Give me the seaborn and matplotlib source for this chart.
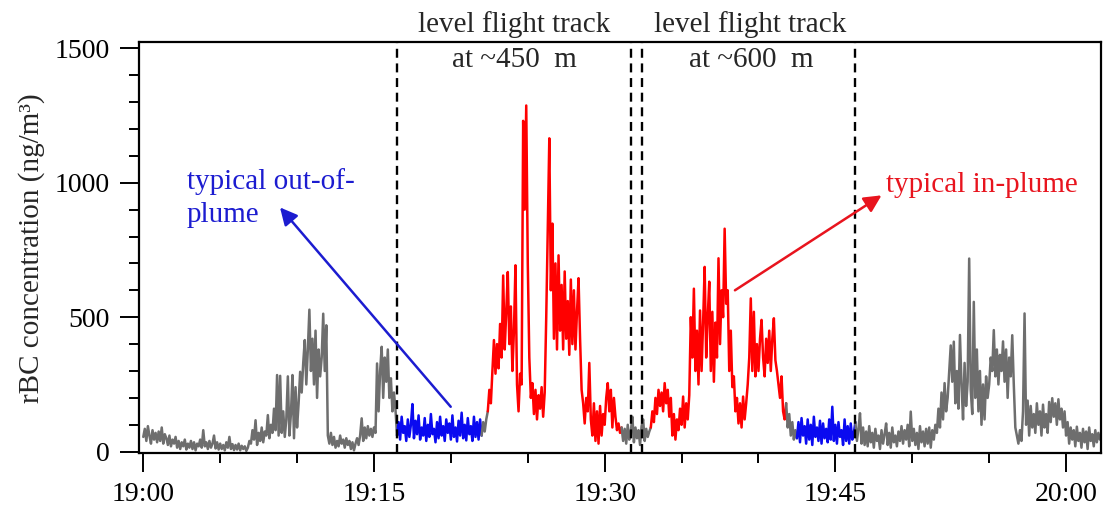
import numpy as np
import matplotlib
matplotlib.use("Agg")
import matplotlib.pyplot as plt
from matplotlib.ticker import MultipleLocator, FixedLocator, FixedFormatter
import seaborn as sns

# ---------------- data (rBC, ng/m3, sampled every 0.1 min from 19:00) ----------------
step_min = 0.1
gray_a = [55, 85, 40, 95, 60, 30, 80, 45, 70, 35,
          75, 40, 90, 30, 65, 50, 25, 60, 20, 45,
          30, 55, 15, 40, 10, 35, 20, 45, 8, 30,
          15, 40, 10, 35, 5, 30, 20, 45, 15, 80,
          20, 35, 10, 40, 15, 30, 60, 12, 35, 8,
          30, 10, 25, 5, 35, 15, 55, 10, 28, 6,
          25, 8, 30, 5, 22, 10, 20, 3, 15, 40,
          30, 80, 45, 117, 25, 70, 40, 90, 35, 75,
          60, 136, 50, 100, 70, 160, 80, 285, 60, 282,
          70, 150, 55, 120, 280, 60, 140, 285, 50, 240,
          90, 180, 297, 220, 330, 415, 250, 380, 528, 300,
          420, 250, 450, 200, 380, 280, 350, 513, 300, 470,
          60, 30, 70, 25, 55, 15, 40, 20, 60, 30,
          45, 15, 50, 25, 40, 10, 35, 5, 30, 50,
          25, 60, 124, 40, 90, 50, 95, 60, 85, 55,
          90, 70, 328, 150, 300, 390, 200, 350, 260, 380,
          200, 273, 150, 220, 155]
blue_a = [60, 110, 45, 130, 70, 95, 40, 120, 55, 100,
          177, 50, 115, 65, 135, 45, 90, 60, 125, 40,
          100, 55, 140, 65, 85, 35, 110, 50, 130, 60,
          95, 40, 120, 70, 105, 45, 135, 55, 90, 38,
          115, 60, 145, 50, 100, 42, 125, 65, 95, 40,
          130, 55, 110, 45, 120]
gray_b = [60, 110, 75, 120]
red_a = [150, 230, 180, 300, 415, 290,
         400, 310, 475, 350, 655, 380, 520, 668, 400, 540,
         300, 450, 693, 250, 150, 290, 250, 1230, 900, 1287,
         700, 350, 200, 255, 140, 230, 120, 210, 160, 240,
         130, 220, 500, 830, 1165, 600, 848, 420, 700, 380,
         730, 450, 620, 380, 670, 420, 560, 360, 640, 400,
         600, 380, 520, 645, 420, 230, 180, 105, 200, 150,
         330, 120, 60, 180, 40, 150, 30, 170, 60, 140,
         100, 200, 255, 150, 230, 90, 200, 130, 80, 105,
         70]
gray_c = [90, 40, 85, 30, 100, 45, 75, 130, 35, 90,
          50, 80, 25, 95, 120, 40, 85, 55, 75]
red_b = [90, 150, 110, 200, 140, 230, 170, 220, 150, 255,
         180, 230, 130, 200, 60, 140, 45, 120, 80, 160,
         100, 205, 90, 180, 120, 210, 500, 350, 606, 300,
         450, 250, 525, 300, 480, 687, 350, 500, 632, 300,
         520, 260, 480, 350, 719, 400, 600, 500, 829, 550,
         600, 300, 450, 240, 280, 150, 200, 105, 180, 90,
         205, 120, 180, 250, 350, 570, 300, 520, 280, 400,
         300, 420, 490, 350, 280, 420, 330, 450, 300, 420,
         496, 340, 300, 250, 200, 280, 150, 120]
gray_d = [180, 90, 140, 60, 110, 45, 80]
blue_b = [50, 110, 35, 125, 60, 95, 30, 120, 45, 100,
          25, 130, 55, 90, 40, 115, 30, 105, 50, 85,
          35, 120, 45, 167, 40, 100, 30, 110, 55, 80,
          25, 120, 40, 95, 30, 105, 45, 70]
gray_e = [110, 40, 85, 143, 30, 90, 25,
          75, 20, 95, 35, 70, 15, 85, 40, 60, 10,
          80, 30, 65, 105, 25, 70, 15, 90, 35, 60,
          20, 75, 40, 95, 30, 80, 45, 100, 20, 149,
          40, 85, 25, 70, 10, 95, 35, 75, 20, 85,
          30, 90, 15, 80, 45, 100, 70, 160, 90, 220,
          120, 255, 150, 200, 300, 395, 260, 409, 180, 300,
          160, 434, 250, 120, 330, 170, 260, 718, 230, 140,
          557, 200, 380, 150, 300, 100, 250, 120, 280, 200,
          250, 350, 300, 452, 280, 380, 250, 360, 300, 410,
          260, 380, 200, 350, 280, 433, 250, 90, 60, 30,
          80, 40, 150, 514, 100, 190, 60, 170, 90, 140,
          70, 180, 100, 150, 60, 175, 90, 140, 70, 185,
          110, 199, 130, 180, 100, 195, 120, 160, 90, 150,
          60, 110, 30, 90, 45, 80, 20, 93, 40, 70,
          15, 85, 35, 75, 10, 90, 40, 65, 20, 80,
          35, 70, 45]

segments = [("gray", gray_a), ("blue", blue_a), ("gray", gray_b), ("red", red_a),
            ("gray", gray_c), ("red", red_b), ("gray", gray_d), ("blue", blue_b),
            ("gray", gray_e)]

x_tick_minutes = [0, 15, 30, 45, 60]
x_tick_labels = ["19:00", "19:15", "19:30", "19:45", "20:00"]
y_ticks = [0, 500, 1000, 1500]
track_bounds = [16.5, 31.7, 32.45, 46.3]

colors = {"gray": "#6e6e6e", "blue": "#0a0af0", "red": "#ff0000"}
blue_txt = "#1c1cd0"
red_txt = "#e8141e"

# ---------------- figure ----------------
sns.set_style("ticks")
plt.rcParams["font.family"] = ["Liberation Serif", "DejaVu Serif"]
plt.rcParams["axes.linewidth"] = 1.5

fig = plt.figure(figsize=(11.08, 5.24), dpi=100)
ax = fig.add_axes([0.1257, 0.1349, 0.8677, 0.7844])

values = np.concatenate([np.asarray(v, float) for _, v in segments])
t = np.arange(len(values)) * step_min

start = 0
for name, seg in segments:
    stop = start + len(seg)
    sl = slice(start, min(stop + 1, len(values)))
    sns.lineplot(x=t[sl], y=values[sl], ax=ax, color=colors[name], lw=1.8,
                 estimator=None, sort=False)
    start = stop

for xb in track_bounds:
    ax.axvline(xb, color="black", lw=1.7, dashes=(3.8, 2.4))

ax.set_xlim(-0.26, 62.25)
ax.set_ylim(-6, 1522)
ax.xaxis.set_major_locator(FixedLocator(x_tick_minutes))
ax.xaxis.set_major_formatter(FixedFormatter(x_tick_labels))
ax.xaxis.set_minor_locator(MultipleLocator(5))
ax.set_yticks(y_ticks)
ax.yaxis.set_minor_locator(MultipleLocator(100))

ax.tick_params(which="major", direction="out", length=14, width=1.4,
               labelsize=20, pad=7, color="black", labelcolor="black")
ax.tick_params(which="minor", direction="out", length=7.5, width=1.4, color="black")
for s in ax.spines.values():
    s.set_visible(True)
    s.set_color("black")
    s.set_linewidth(1.6)

ax.set_xlabel("")
ax.set_ylabel("rBC concentration (ng/m³)", fontsize=21, labelpad=7)

# annotations
fs = 21
ax.text(24.1, 1560, "level flight track", ha="center", va="baseline", fontsize=fs, clip_on=False)
ax.text(24.1, 1430, "at ~450  m", ha="center", va="baseline", fontsize=fs)
ax.text(39.45, 1560, "level flight track", ha="center", va="baseline", fontsize=fs, clip_on=False)
ax.text(39.5, 1430, "at ~600  m", ha="center", va="baseline", fontsize=fs)

ax.text(2.84, 978, "typical out-of-", ha="left", va="baseline", fontsize=fs, color=blue_txt)
ax.text(2.84, 853, "plume", ha="left", va="baseline", fontsize=fs, color=blue_txt)
ax.text(48.3, 965, "typical in-plume", ha="left", va="baseline", fontsize=fs, color=red_txt)

ax.annotate("", xy=(8.89, 908), xytext=(19.99, 167),
            arrowprops=dict(arrowstyle="-|>", color=blue_txt, lw=1.8, mutation_scale=26,
                            shrinkA=0, shrinkB=0))
ax.annotate("", xy=(48.0, 953), xytext=(38.47, 600),
            arrowprops=dict(arrowstyle="-|>", color=red_txt, lw=1.8, mutation_scale=26,
                            shrinkA=0, shrinkB=0))

fig.savefig("out.png", dpi=100)
